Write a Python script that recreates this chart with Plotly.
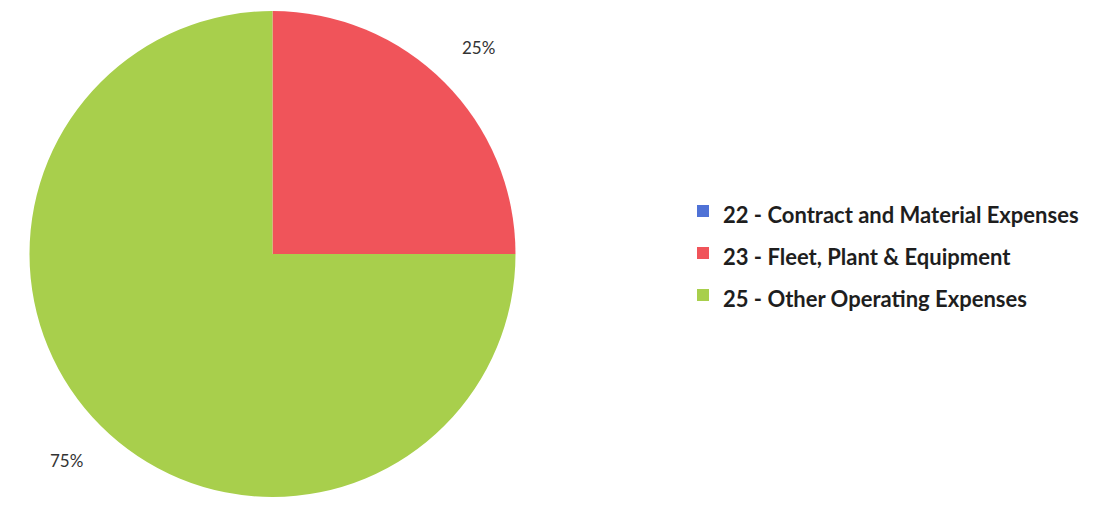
import math
import plotly.graph_objects as go

categories = [
    "22 - Contract and Material Expenses",
    "23 - Fleet, Plant & Equipment",
    "25 - Other Operating Expenses",
]
shares = [0, 25, 75]
colors = ["#4F72D6", "#F0545A", "#A8CF4C"]

W, H = 1112, 512
# pie placement in pixels
CX, CY, R = 272.5, 254.0, 243.0
LABEL_R = 292.0

# legend rows use a taller line box than the visible text
legend_labels = [f'<span style="font-size:22px">{c}</span>' for c in categories]

fig = go.Figure(
    go.Pie(
        labels=legend_labels,
        values=shares,
        sort=False,
        direction="clockwise",
        rotation=0,
        marker=dict(colors=colors, line=dict(width=0)),
        textinfo="none",
        domain=dict(x=[(CX - R) / W, (CX + R) / W], y=[1 - (CY + R) / H, 1 - (CY - R) / H]),
        showlegend=True,
        hovertext=categories,
        hoverinfo="text+percent",
    )
)

# percentage labels placed outside each slice's mid-angle
total = sum(shares)
cum = 0
for v in shares:
    if v:
        mid = (cum + v / 2) / total * 2 * math.pi
        px = CX + LABEL_R * math.sin(mid)
        py = CY - LABEL_R * math.cos(mid)
        fig.add_annotation(
            x=px / W, y=1 - py / H, xref="paper", yref="paper",
            text=f"{v / total * 100:.0f}%", showarrow=False,
            xanchor="center", yanchor="middle",
            font=dict(family="Lato", size=17, color="#333333"),
        )
    cum += v

fig.update_layout(
    width=W,
    height=H,
    margin=dict(l=0, r=0, t=0, b=0),
    paper_bgcolor="white",
    plot_bgcolor="white",
    legend=dict(
        x=683 / W,
        y=1 - 253 / H,
        xanchor="left",
        yanchor="middle",
        font=dict(family="Lato", size=30, color="#1E1E1E", weight="bold"),
        itemwidth=30,
        tracegroupgap=0,
    ),
)

fig.write_html("out.html")
